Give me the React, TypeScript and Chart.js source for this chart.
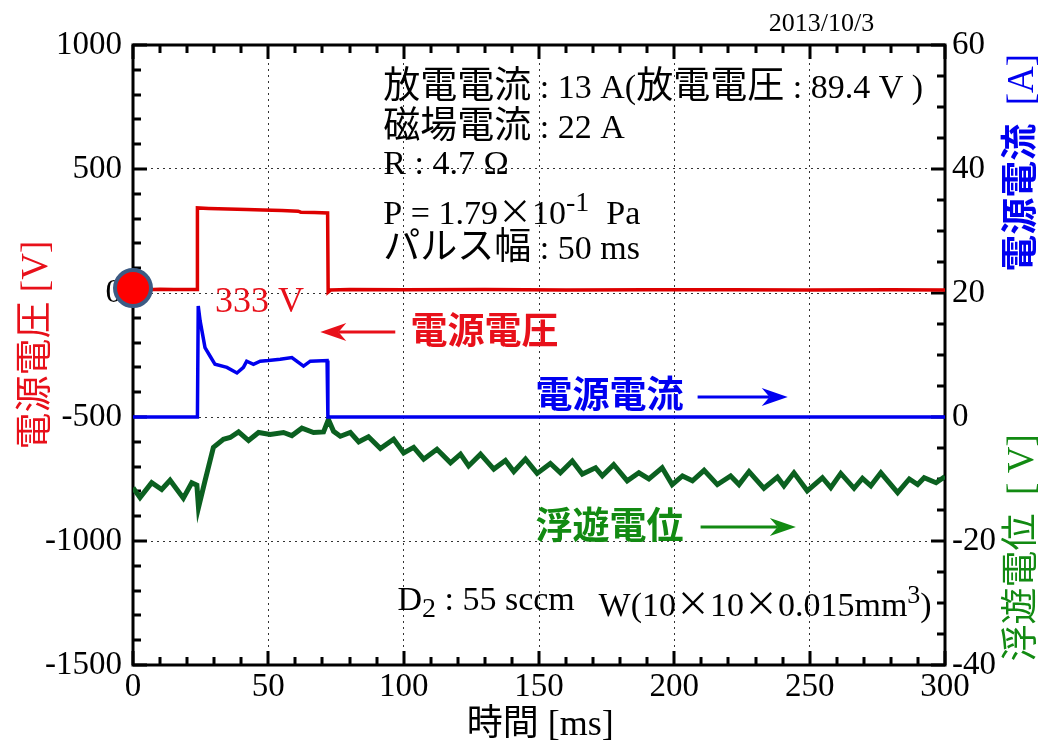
import React, { useEffect, useRef } from 'react';
import { Chart, registerables } from 'chart.js';

Chart.register(...registerables);

// ---- data ----
const timeMin = 0;
const timeMax = 300;
const xTicks = [0, 50, 100, 150, 200, 250, 300];
const voltTicks = [-1500, -1000, -500, 0, 500, 1000];
const rightTicks = [-40, -20, 0, 20, 40, 60];
const xMinorStep = 10;
const voltMinorStep = 100;
const rightMinorStep = 5;

// 電源電圧 [V] (left axis)
const voltageT = [0, 5, 10, 15, 20, 23.7, 23.8, 28, 35, 42, 48, 55, 61, 62, 67, 71.9, 72.1, 73, 80, 100, 130, 160, 190, 220, 250, 280, 300];
const voltageV = [14, 13, 15, 14, 14, 14, 343, 341, 339, 337, 335, 333, 330, 326, 325, 323, 4, 12, 14, 13, 14, 12, 13, 13, 12, 13, 12];

// 電源電流 [A] (right axis)
const currentT = [0, 23.8, 24.1, 24.8, 26.6, 28.5, 30.3, 34.7, 38.4, 40.8, 42, 44.5, 47, 50, 54.4, 58.7, 63, 65.5, 71.7, 72, 300];
const currentA = [0, 0, 17.9, 15.5, 11.2, 9.8, 8.5, 8.0, 7.1, 8.0, 9.0, 8.5, 9.0, 9.1, 9.3, 9.6, 8.2, 9.0, 9.1, 0, 0];

// 浮遊電位 [V] (right axis)
const floatT = [0, 2.6, 6.9, 10.6, 13.7, 18.6, 21.7, 23.6, 24.2, 26.6, 29.7, 33.4, 35.9, 39, 42.7, 46.4, 50.7, 55.6, 58.7, 62.4, 66.7, 70.4, 72.2, 74.1, 76.6, 80.3, 83.4, 87, 91.4, 96.3, 100, 103.7, 107.4, 112.3, 117.3, 121, 124, 128.4, 133.3, 137.6, 140.7, 145, 149.3, 154.2, 157.9, 162.3, 166, 170.9, 173.4, 177.6, 182.6, 186.9, 190.6, 195.5, 199.2, 203, 206.7, 211, 215.9, 220.8, 223.9, 227.6, 233.1, 238.1, 240.5, 244.2, 249.1, 254.7, 257.8, 261.5, 266.4, 269.5, 272.6, 276.3, 282.5, 286.8, 289.9, 292.3, 296.7, 300];
const floatV = [-11.4, -13.0, -10.6, -11.7, -10.2, -13.1, -10.6, -11.0, -14.6, -10.3, -4.9, -3.6, -3.3, -2.4, -3.8, -2.5, -2.8, -2.5, -3.0, -1.8, -2.5, -2.4, -0.4, -2.3, -3.1, -2.5, -4.0, -3.2, -5.1, -3.6, -5.8, -4.9, -6.8, -5.2, -7.4, -6.0, -7.9, -6.0, -8.4, -7.0, -8.8, -6.8, -9.1, -7.5, -9.0, -7.1, -9.2, -8.2, -9.5, -7.7, -10.3, -9.0, -10.0, -8.2, -10.9, -9.5, -10.3, -8.6, -10.9, -9.5, -10.9, -8.8, -11.5, -9.7, -11.1, -9.0, -11.9, -9.8, -11.4, -9.1, -11.5, -9.9, -11.1, -9.0, -12.2, -10.0, -10.9, -9.8, -10.6, -9.6];

// marker at origin of the voltage trace
const markerT = [0];
const markerV = [20];

// ---- styling ----
const SERIF = '"Liberation Serif", "Times New Roman", serif';
const JP = '"Noto Sans CJK JP", "Noto Sans CJK SC", sans-serif';
const RED_LINE = '#dd0000';
const BLUE_LINE = '#0000ee';
const GREEN_LINE = '#0b6020';
const RED_TEXT = '#e8101a';
const BLUE_TEXT = '#0000f0';
const GREEN_TEXT = '#128a12';

type Run = { t: string; f: string; dy?: number };

function drawRuns(ctx: CanvasRenderingContext2D, runs: Run[], x: number, y: number, align: 'left' | 'center', color: string) {
  ctx.save();
  ctx.fillStyle = color;
  ctx.textBaseline = 'alphabetic';
  ctx.textAlign = 'left';
  const widths = runs.map((r) => {
    ctx.font = r.f;
    return ctx.measureText(r.t).width;
  });
  const total = widths.reduce((a, b) => a + b, 0);
  let cx = align === 'left' ? x : x - total / 2;
  runs.forEach((r, i) => {
    ctx.font = r.f;
    ctx.fillText(r.t, cx, y + (r.dy || 0));
    cx += widths[i];
  });
  ctx.restore();
}

function drawArrow(ctx: CanvasRenderingContext2D, x1: number, x2: number, y: number, color: string) {
  const dir = x2 > x1 ? 1 : -1;
  const headLen = 26;
  const headHalf = 9;
  ctx.save();
  ctx.strokeStyle = color;
  ctx.fillStyle = color;
  ctx.lineWidth = 3;
  ctx.beginPath();
  ctx.moveTo(x1, y);
  ctx.lineTo(x2 - dir * headLen * 0.7, y);
  ctx.stroke();
  ctx.beginPath();
  ctx.moveTo(x2, y);
  ctx.lineTo(x2 - dir * headLen, y - headHalf);
  ctx.lineTo(x2 - dir * headLen * 0.7, y);
  ctx.lineTo(x2 - dir * headLen, y + headHalf);
  ctx.closePath();
  ctx.fill();
  ctx.restore();
}

function drawTickMarks(chart: any) {
  const { ctx, chartArea: ca, scales } = chart;
  ctx.save();
  ctx.setLineDash([]);
  ctx.strokeStyle = '#000000';
  ctx.lineWidth = 3;
  ctx.beginPath();
  const xs = scales.x;
  for (let t = xs.min; t <= xs.max + 1e-6; t += xMinorStep) {
    const x = Math.round(xs.getPixelForValue(t));
    const len = Math.abs(t % 50) < 1e-6 ? 14 : 8;
    ctx.moveTo(x, ca.bottom);
    ctx.lineTo(x, ca.bottom - len);
    ctx.moveTo(x, ca.top);
    ctx.lineTo(x, ca.top + len);
  }
  const ys = scales.y;
  for (let v = ys.min; v <= ys.max + 1e-6; v += voltMinorStep) {
    const y = Math.round(ys.getPixelForValue(v));
    const len = Math.abs(v % 500) < 1e-6 ? 14 : 8;
    ctx.moveTo(ca.left, y);
    ctx.lineTo(ca.left + len, y);
  }
  const rs = scales.y1;
  for (let a = rs.min; a <= rs.max + 1e-6; a += rightMinorStep) {
    const y = Math.round(rs.getPixelForValue(a));
    const len = Math.abs(a % 20) < 1e-6 ? 14 : 8;
    ctx.moveTo(ca.right, y);
    ctx.lineTo(ca.right - len, y);
  }
  ctx.stroke();
  ctx.restore();
}

const framePlugin = {
  id: 'frameTicks',
  beforeDatasetsDraw(chart: any) {
    const { ctx, chartArea: ca } = chart;
    ctx.save();
    ctx.setLineDash([]);
    ctx.strokeStyle = '#000';
    ctx.lineWidth = 3;
    ctx.strokeRect(ca.left, ca.top, ca.right - ca.left, ca.bottom - ca.top);
    ctx.restore();
    drawTickMarks(chart);
  },
  afterDraw(chart: any) {
    const { ctx, chartArea: ca, scales } = chart;
    const X = (t: number) => scales.x.getPixelForValue(t);
    const Y = (v: number) => scales.y.getPixelForValue(v);
    const Y1 = (a: number) => scales.y1.getPixelForValue(a);
    const s = (n: number) => `${n}px ${SERIF}`;
    const j = (n: number, w = 'normal') => `${w} ${n}px ${JP}`;

    // info block
    const lx = X(92.5);
    drawRuns(ctx, [{ t: '放電電流', f: j(37) }, { t: ' : 13 A(', f: s(34) }, { t: '放電電圧', f: j(37) }, { t: ' : 89.4 V )', f: s(34) }], lx, Y(786), 'left', '#000');
    drawRuns(ctx, [{ t: '磁場電流', f: j(37) }, { t: ' : 22 A', f: s(34) }], lx, Y(625), 'left', '#000');
    drawRuns(ctx, [{ t: 'R : 4.7 Ω', f: s(34) }], lx, Y(480), 'left', '#000');
    drawRuns(ctx, [{ t: 'P = 1.79', f: s(34) }, { t: '×', f: j(34) }, { t: '10', f: s(34) }, { t: '-1', f: s(28), dy: -13 }, { t: '  Pa', f: s(34) }], lx, Y(278), 'left', '#000');
    drawRuns(ctx, [{ t: 'パルス幅', f: j(37) }, { t: ' : 50 ms', f: s(34) }], lx, Y(137), 'left', '#000');

    // trace labels
    drawRuns(ctx, [{ t: '333 V', f: s(36) }], X(30.3), Y(-77), 'left', RED_TEXT);
    drawRuns(ctx, [{ t: '電源電圧', f: j(37, 'bold') }], X(102.5), Y(-206), 'left', RED_TEXT);
    drawArrow(ctx, X(96.9), X(69.2), Y(-157), RED_TEXT);
    drawRuns(ctx, [{ t: '電源電流', f: j(37, 'bold') }], X(148.7), Y(-464), 'left', BLUE_TEXT);
    drawArrow(ctx, X(208.6), X(241.9), Y(-419), BLUE_TEXT);
    drawRuns(ctx, [{ t: '浮遊電位', f: j(37, 'bold') }], X(148.7), Y(-992), 'left', GREEN_TEXT);
    drawArrow(ctx, X(209.7), X(244.9), Y(-944), GREEN_TEXT);

    // lower notes
    drawRuns(ctx, [{ t: 'D', f: s(34) }, { t: '2', f: s(28), dy: 7 }, { t: ' : 55 sccm', f: s(34) }], X(97.7), Y(-1278), 'left', '#000');
    drawRuns(ctx, [{ t: 'W(10', f: s(34) }, { t: '×', f: j(34) }, { t: '10', f: s(34) }, { t: '×', f: j(34) }, { t: '0.015mm', f: s(34) }, { t: '3', f: s(26), dy: -13 }, { t: ')', f: s(34) }], X(172), Y(-1302), 'left', '#000');

    // date
    drawRuns(ctx, [{ t: '2013/10/3', f: s(26) }], X(234.9), Y(1056), 'left', '#000');

    // x axis title
    drawRuns(ctx, [{ t: '時間', f: j(36) }, { t: ' [ms]', f: s(36) }], X(150.5), ca.bottom + 70, 'center', '#000');

    // rotated axis titles
    const rot = (cx: number, cy: number, runs: Run[], color: string) => {
      ctx.save();
      ctx.translate(cx + 13, cy);
      ctx.rotate(-Math.PI / 2);
      drawRuns(ctx, runs, 0, 0, 'center', color);
      ctx.restore();
    };
    rot(ca.left - 99, Y(-210), [{ t: '電源電圧', f: j(37) }, { t: ' [V]', f: s(37) }], RED_TEXT);
    rot(ca.right + 75, Y1(41), [{ t: '電源電流', f: j(37, 'bold') }, { t: '  [A]', f: s(37) }], BLUE_TEXT);
    rot(ca.right + 75, Y1(-21.1), [{ t: '浮遊電位', f: j(37) }, { t: '  [ V]', f: s(37) }], GREEN_TEXT);
  },
};

const pairs = (xs: number[], ys: number[]) => xs.map((x, i) => ({ x, y: ys[i] }));
const plain = (v: any) => String(v);

export default function App() {
  const ref = useRef<HTMLCanvasElement | null>(null);
  useEffect(() => {
    if (!ref.current) return;
    const chart = new Chart(ref.current, {
      type: 'line',
      data: {
        datasets: [
          {
            label: 'marker',
            data: pairs(markerT, markerV),
            yAxisID: 'y',
            showLine: false,
            pointRadius: 18,
            pointBorderWidth: 4,
            pointBackgroundColor: '#ff0000',
            pointBorderColor: '#3d5b84',
            clip: false as any,
          },
          {
            label: '電源電圧',
            data: pairs(voltageT, voltageV),
            yAxisID: 'y',
            borderColor: RED_LINE,
            borderWidth: 3.5,
            pointRadius: 0,
            tension: 0,
          },
          {
            label: '電源電流',
            data: pairs(currentT, currentA),
            yAxisID: 'y1',
            borderColor: BLUE_LINE,
            borderWidth: 3.5,
            pointRadius: 0,
            tension: 0,
          },
          {
            label: '浮遊電位',
            data: pairs(floatT, floatV),
            yAxisID: 'y1',
            borderColor: GREEN_LINE,
            borderWidth: 5,
            pointRadius: 0,
            tension: 0,
          },
        ],
      },
      options: {
        responsive: false,
        animation: false,
        devicePixelRatio: 1,
        layout: { padding: { top: 45, left: 0, right: 0, bottom: 0 } },
        plugins: { legend: { display: false }, tooltip: { enabled: false } },
        scales: {
          x: {
            type: 'linear',
            min: timeMin,
            max: timeMax,
            afterFit: (sc: any) => { sc.height = 77; },
            afterBuildTicks: (sc: any) => { sc.ticks = xTicks.map((v) => ({ value: v })); },
            ticks: { color: '#000', font: { family: SERIF, size: 33 }, padding: 3, maxRotation: 0, autoSkip: false, callback: plain },
            grid: { color: '#333', lineWidth: 1, drawTicks: false },
            border: { display: false, dash: [2, 4] },
          },
          y: {
            type: 'linear',
            position: 'left',
            min: -1500,
            max: 1000,
            afterFit: (sc: any) => { sc.width = 133; },
            afterBuildTicks: (sc: any) => { sc.ticks = voltTicks.map((v) => ({ value: v })); },
            ticks: { color: '#000', font: { family: SERIF, size: 33 }, padding: 11, callback: plain },
            grid: { color: '#333', lineWidth: 1, drawTicks: false },
            border: { display: false, dash: [2, 4] },
          },
          y1: {
            type: 'linear',
            position: 'right',
            min: -40,
            max: 60,
            afterFit: (sc: any) => { sc.width = 98; },
            afterBuildTicks: (sc: any) => { sc.ticks = rightTicks.map((v) => ({ value: v })); },
            ticks: { color: '#000', font: { family: SERIF, size: 33 }, padding: 7, callback: plain },
            grid: { display: false, drawTicks: false },
            border: { display: false },
          },
        },
      },
      plugins: [framePlugin],
    });
    return () => chart.destroy();
  }, []);
  return (
    <div style={{ position: 'absolute', left: 0, top: 0, width: 1043, height: 742, background: '#fff' }}>
      <canvas ref={ref} width={1043} height={742} style={{ display: 'block' }} />
    </div>
  );
}
